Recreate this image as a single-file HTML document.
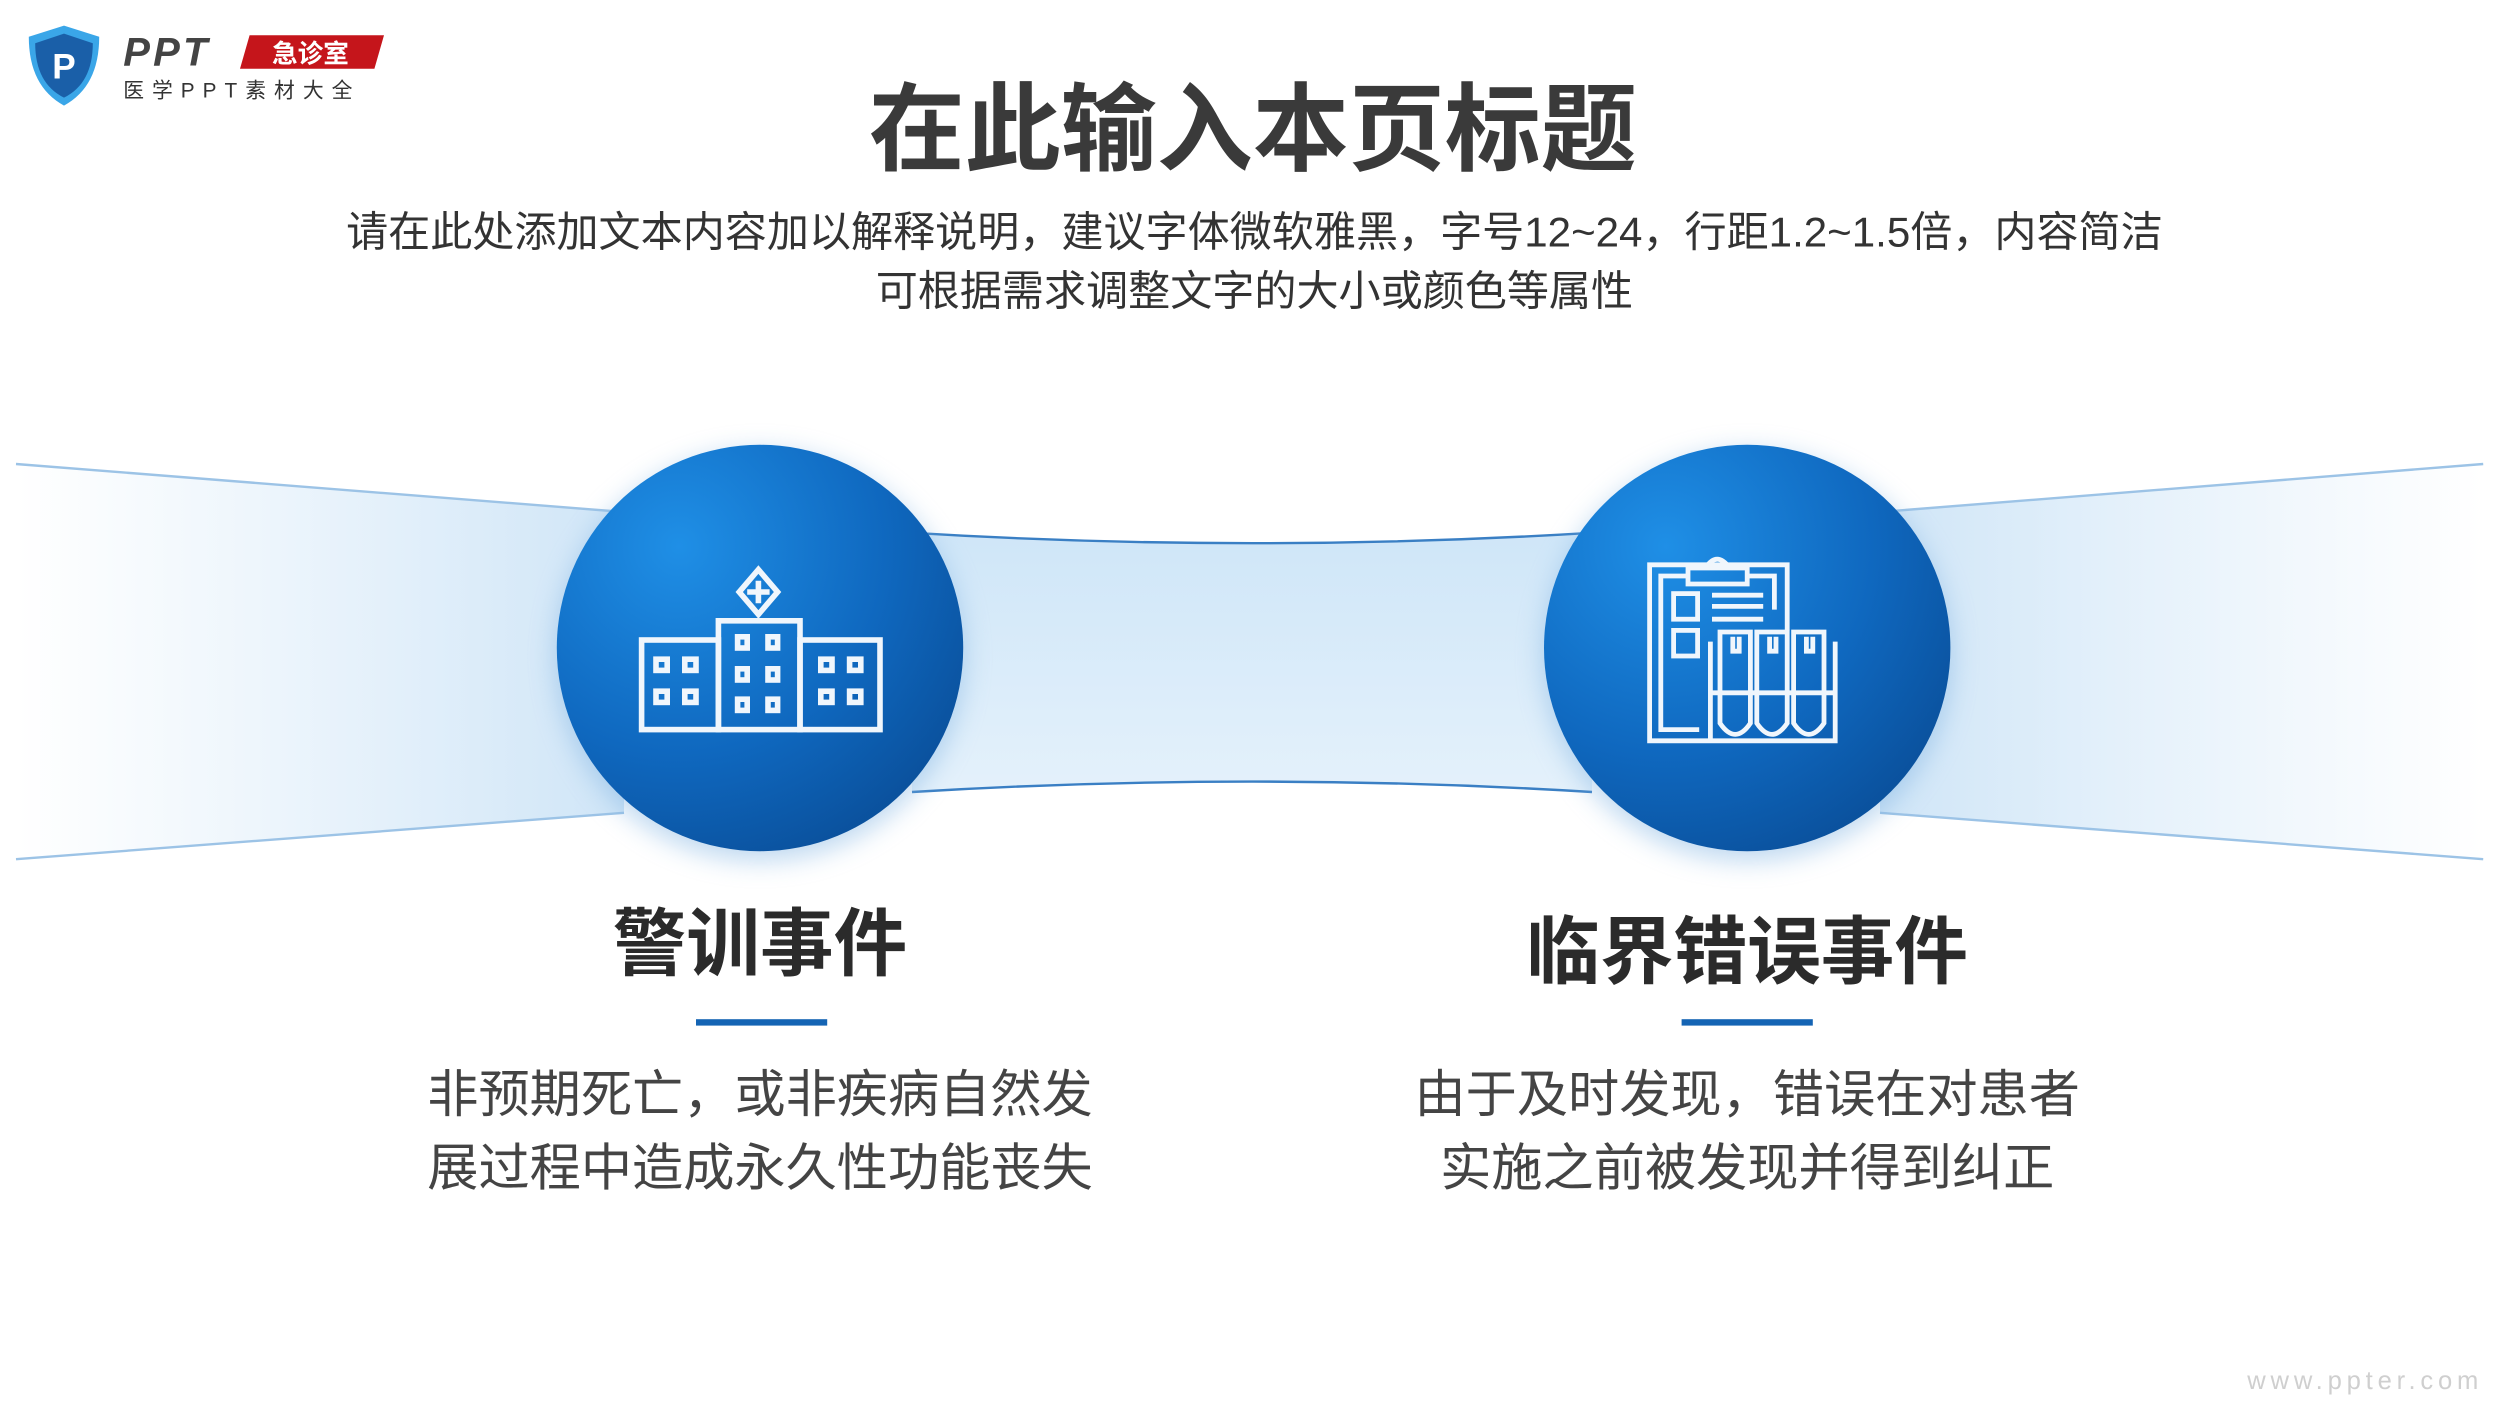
<!DOCTYPE html>
<html><head><meta charset="utf-8"><style>
html,body{margin:0;padding:0;background:#fff;}
svg{display:block;}
text{font-family:"Liberation Sans","Noto Sans CJK SC",sans-serif;}
</style></head><body>
<svg width="2500" height="1406" viewBox="0 0 1562.5 878.75" xmlns="http://www.w3.org/2000/svg">
<defs>
<linearGradient id="bl" x1="0" x2="1" y1="0" y2="0">
<stop offset="0" stop-color="#d6e9f8" stop-opacity="0"/><stop offset="1" stop-color="#cfe5f7"/></linearGradient>
<linearGradient id="br" x1="1" x2="0" y1="0" y2="0">
<stop offset="0" stop-color="#d6e9f8" stop-opacity="0"/><stop offset="1" stop-color="#cfe5f7"/></linearGradient>
<linearGradient id="bm" x1="0" x2="0" y1="0" y2="1">
<stop offset="0" stop-color="#cfe6f8"/><stop offset="1" stop-color="#e4f1fb"/></linearGradient>
<radialGradient id="cg" cx="0.3" cy="0.25" r="0.85">
<stop offset="0" stop-color="#1f8fe6"/><stop offset="0.6" stop-color="#0f68bf"/><stop offset="1" stop-color="#0a4f9a"/></radialGradient>
<filter id="sh" x="-30%" y="-30%" width="160%" height="160%"><feGaussianBlur stdDeviation="8"/></filter>
</defs>
<path d="M10 290 L390 320 L390 508 L10 537 Z" fill="url(#bl)"/>
<path d="M10 290 L390 320" stroke="#9cc3e6" stroke-width="1.5" fill="none"/>
<path d="M10 537 L390 508" stroke="#9cc3e6" stroke-width="1.5" fill="none"/>
<path d="M1552 290 L1175 320 L1175 508 L1552 537 Z" fill="url(#br)"/>
<path d="M1552 290 L1175 320" stroke="#9cc3e6" stroke-width="1.5" fill="none"/>
<path d="M1552 537 L1175 508" stroke="#9cc3e6" stroke-width="1.5" fill="none"/>
<path d="M570 333 Q783 346 995 333 L995 495 Q783 482 570 495 Z" fill="url(#bm)"/>
<path d="M570 333 Q783 346 995 333" stroke="#3a7fc4" stroke-width="1.5" fill="none"/>
<path d="M570 495 Q783 482 995 495" stroke="#3a7fc4" stroke-width="1.5" fill="none"/>
<circle cx="475" cy="410" r="128" fill="#7fb2e2" opacity="0.5" filter="url(#sh)"/>
<circle cx="475" cy="405" r="127" fill="url(#cg)"/>
<circle cx="1092" cy="410" r="128" fill="#7fb2e2" opacity="0.5" filter="url(#sh)"/>
<circle cx="1092" cy="405" r="127" fill="url(#cg)"/>
<g stroke="#f0f6fc" stroke-width="3.5" fill="none">
<rect x="401" y="400" width="48" height="56"/>
<rect x="449" y="388" width="51" height="68"/>
<rect x="500" y="400" width="50" height="56"/>
<path d="M474 356 L486 370 L474 384 L462 370 Z"/>
<path d="M474 363 V377 M467 370 H481"/>
<rect x="410" y="412" width="7" height="7"/><rect x="428" y="412" width="7" height="7"/>
<rect x="410" y="432" width="7" height="7"/><rect x="428" y="432" width="7" height="7"/>
<rect x="513" y="412" width="7" height="7"/><rect x="531" y="412" width="7" height="7"/>
<rect x="513" y="432" width="7" height="7"/><rect x="531" y="432" width="7" height="7"/>
<rect x="461" y="398" width="6" height="7"/><rect x="480" y="398" width="6" height="7"/>
<rect x="461" y="418" width="6" height="7"/><rect x="480" y="418" width="6" height="7"/>
<rect x="461" y="437" width="6" height="7"/><rect x="480" y="437" width="6" height="7"/>
</g>
<g stroke="#f0f6fc" stroke-width="3" fill="none">
<path d="M1117 394 V353 H1031 V463 H1147 V401"/>
<path d="M1062 456 H1038 V360 H1055 M1092 360 H1109 V381"/>
<path d="M1055 355 H1092 V365 H1055 Z M1066 355 Q1073 344 1081 355"/>
<rect x="1046" y="371" width="15" height="16"/><rect x="1046" y="394" width="15" height="16"/>
<path d="M1070 372 H1102 M1070 379 H1102 M1070 387 H1102"/>
<path d="M1069 401 V462 M1069 433 H1147"/>
<path d="M1075 395 H1094 V452 Q1084.5 466 1075 452 Z M1083 398 V407 H1087 V398"/>
<path d="M1098 395 H1117 V452 Q1107.5 466 1098 452 Z M1106 398 V407 H1110 V398"/>
<path d="M1121 395 H1140 V452 Q1130.5 466 1121 452 Z M1129 398 V407 H1133 V398"/>
</g>
<path d="M40 16 L62 23 Q62 54 40 66 Q18 54 18 23 Z" fill="#3aa6e8"/>
<path d="M40 21 L58 27 Q58 52 40 61 Q22 52 22 27 Z" fill="#1a5fa8"/>
<text x="40" y="49" font-size="22" fill="#fff" text-anchor="middle" font-family="Liberation Serif,serif" font-weight="bold">P</text>
<text x="77" y="41" font-size="25" font-weight="bold" font-style="italic" fill="#444" letter-spacing="2">PPT</text>
<path d="M156 22 H240 L234 43 H150 Z" fill="#c5151b"/>
<text x="194" y="39" font-size="16" font-weight="bold" fill="#fff" text-anchor="middle">急诊室</text>
<text x="77" y="61" font-size="13" fill="#333" letter-spacing="5">医学PPT素材大全</text>
<text x="783" y="102" font-size="60" font-weight="bold" fill="#3a3a3a" text-anchor="middle">在此输入本页标题</text>
<text x="784" y="154" font-size="26.3" fill="#333" text-anchor="middle">请在此处添加文本内容加以解释说明，建议字体微软雅黑，字号12~24，行距1.2~1.5倍，内容简洁</text>
<text x="784" y="191" font-size="26.3" fill="#333" text-anchor="middle">可根据需求调整文字的大小或颜色等属性</text>
<text x="475" y="606" font-size="46" font-weight="bold" fill="#2b2b2b" text-anchor="middle">警训事件</text>
<text x="1092" y="611" font-size="46" font-weight="bold" fill="#2b2b2b" text-anchor="middle">临界错误事件</text>
<rect x="435" y="637" width="82" height="4" fill="#1464b4"/>
<rect x="1051" y="637" width="82" height="4" fill="#1464b4"/>
<text x="475" y="695" font-size="32" fill="#444" text-anchor="middle">非预期死亡，或非疾病自然发</text>
<text x="475" y="741" font-size="32" fill="#444" text-anchor="middle">展过程中造成永久性功能丧失</text>
<text x="1092" y="695" font-size="32" fill="#444" text-anchor="middle">由于及时发现，错误在对患者</text>
<text x="1092" y="741" font-size="32" fill="#444" text-anchor="middle">实施之前被发现并得到纠正</text>
<text x="1552" y="868" font-size="16" fill="#cfcfcf" text-anchor="end" letter-spacing="3">www.ppter.com</text>
</svg>
</body></html>
